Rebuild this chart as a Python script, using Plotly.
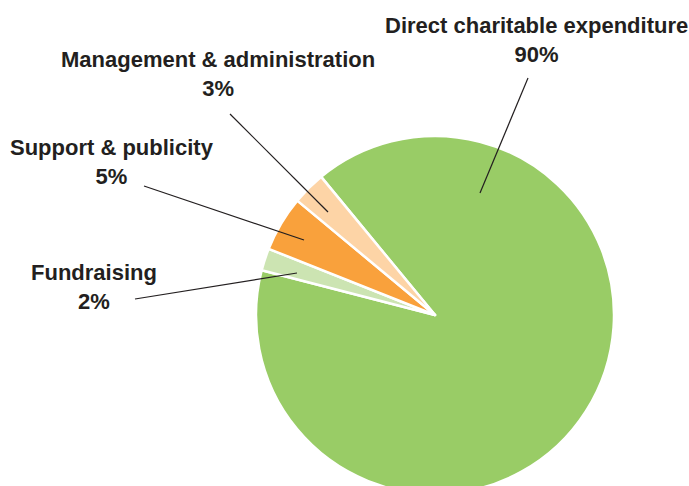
import plotly.graph_objects as go

# Data
categories = ["Direct charitable expenditure", "Fundraising", "Support & publicity", "Management & administration"]
values = [90, 2, 5, 3]
pct_labels = ["90%", "2%", "5%", "3%"]
colors = ["#99cc66", "#cce4b2", "#f9a13c", "#fdd4a6"]

W, H = 689, 494  # figure slightly taller than the window so the pie bottom is cropped as in the reference

def px(x):
    return x / W

def py(y):
    return 1 - y / H

cx, r = 435, 179

fig = go.Figure(go.Pie(
    labels=categories,
    values=values,
    sort=False,
    direction="clockwise",
    rotation=-39.5,
    marker=dict(colors=colors, line=dict(color="white", width=2.5)),
    textinfo="none",
    hoverinfo="label+percent",
    showlegend=False,
    domain=dict(x=[px(cx - r), px(cx + r)], y=[0, (2 * r) / H]),
))

font = dict(family="Liberation Sans, Arial, sans-serif", size=22, color="#231f20")

# label positions (text block centre, pixels) and leader lines (pixels)
label_pos = {
    "Direct charitable expenditure": (536, 40),
    "Management & administration": (218, 74),
    "Support & publicity": (112, 162),
    "Fundraising": (94, 287),
}
leaders = {
    "Direct charitable expenditure": ((528, 78), (480, 193)),
    "Management & administration": ((230, 114), (328, 212)),
    "Support & publicity": ((144, 186), (304, 240)),
    "Fundraising": ((135, 299), (297, 273)),
}

for cat, pct in zip(categories, pct_labels):
    x, y = label_pos[cat]
    fig.add_annotation(
        x=px(x), y=py(y), xref="paper", yref="paper",
        text=f"<b>{cat}<br>{pct}</b>", showarrow=False,
        xanchor="center", yanchor="middle", align="center", font=font,
    )
    (x0, y0), (x1, y1) = leaders[cat]
    fig.add_shape(type="line", xref="paper", yref="paper",
                  x0=px(x0), y0=py(y0), x1=px(x1), y1=py(y1),
                  line=dict(color="#231f20", width=1.2))

fig.update_layout(
    width=W, height=H,
    margin=dict(l=0, r=0, t=0, b=0),
    paper_bgcolor="white",
    plot_bgcolor="white",
)

fig.write_html(
    "out.html",
    config={"displayModeBar": False},
    post_script="document.body.style.margin='0';document.body.style.overflow='hidden';document.documentElement.style.overflow='hidden';",
)
